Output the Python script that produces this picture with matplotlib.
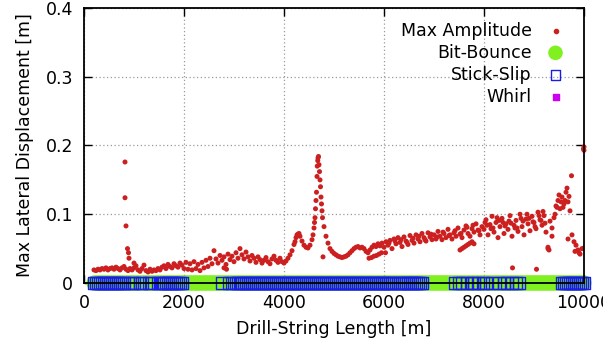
import numpy as np
import matplotlib
matplotlib.use("Agg")
import matplotlib.pyplot as plt
from matplotlib.patches import Rectangle

# drill-string length grid [m] (sampling step of the simulation output)
length_m = np.arange(200, 10001, 40)

# max lateral displacement, one block per 1000 m
amp_200_960 = [.019, .018, .020, .019, .021, .020, .022, .019, .021, .022,
               .020, .023, .021, .019, .022, .024, .020, .018, .021, .019]
amp_1000 = [.022, .025, .019, .017, .021, .026, .018, .016, .020, .017,
            .019, .018, .021, .019, .023, .025, .021, .027, .024, .022,
            .028, .025, .023, .029, .026]
amp_2000 = [.021, .030, .020, .028, .019, .031, .021, .027, .018, .030,
            .022, .033, .024, .036, .028, .047, .035, .029, .040, .033,
            .038, .027, .042, .034, .039]
amp_3000 = [.031, .044, .036, .050, .041, .035, .045, .038, .032, .040,
            .036, .030, .038, .034, .029, .033, .037, .031, .028, .035,
            .039, .033, .030, .036, .031]
amp_4000 = [.029, .032, .036, .041, .047, .056, .066, .071, .068, .061,
            .055, .052, .051, .055, .063, .080, .120, .182, .150, .105,
            .082, .068, .058, .050, .046]
amp_5000 = [.043, .041, .039, .038, .037, .038, .039, .041, .044, .047,
            .050, .052, .053, .051, .052, .050, .046, .044, .048, .052,
            .055, .053, .057, .054, .058]
amp_6000 = [.052, .060, .055, .062, .050, .064, .057, .066, .059, .053,
            .067, .061, .056, .069, .062, .058, .070, .064, .060, .072,
            .066, .061, .073, .067, .063]
amp_7000 = [.070, .064, .075, .068, .063, .072, .066, .078, .070, .064,
            .073, .068, .080, .071, .066, .077, .083, .072, .068, .079,
            .074, .086, .077, .070, .082]
amp_8000 = [.078, .092, .070, .085, .097, .074, .088, .066, .082, .094,
            .072, .086, .078, .098, .068, .084, .091, .075, .100, .082,
            .070, .093, .086, .076, .097]
amp_9000 = [.088, .079, .103, .092, .084, .098, .074, .052, .090, .080,
            .095, .112, .120, .108, .125, .115, .132, .118, .105, .070,
            .060, .055, .048, .042, .050, .051]

amplitude = np.array(amp_200_960 + amp_1000 + amp_2000 + amp_3000 + amp_4000
                     + amp_5000 + amp_6000 + amp_7000 + amp_8000 + amp_9000)

# extra points: spikes, resonance peak, lower branches and scatter
extra_x = [820, 820, 840, 870, 890, 900, 1000, 2800, 2850,
           4220, 4260, 4300, 4580, 4610, 4620, 4630, 4650, 4660, 4665, 4675,
           4690, 4700, 4710, 4730, 4740, 4750, 4770, 4780,
           5700, 5750, 5800, 5850, 5900, 5950, 6030,
           7520, 7560, 7600, 7640, 7680, 7720, 7760, 7800,
           8060, 8180, 8260, 8380, 8500, 8620, 8740, 8860, 8980, 9100, 9180,
           8570, 9050, 9280, 9300, 9460, 9500, 9540, 9620, 9660, 9700, 9750,
           9990, 10000, 10000,
           6100, 6220, 6340, 6460, 6580, 6700, 6820, 6940, 7060, 7180, 7300,
           7420, 7540, 7660, 7780, 7900, 8020, 8140, 8300, 8420, 8540, 8660,
           8780, 8900, 9020, 9140, 9220, 9360, 9420, 9580, 9680, 9820, 9900]
extra_y = [.176, .124, .083, .050, .044, .036, .029, .022, .020,
           .060, .070, .072, .070, .088, .095, .108, .132, .155, .170, .178,
           .184, .172, .162, .140, .125, .115, .095, .038,
           .036, .037, .039, .040, .042, .044, .044,
           .048, .050, .052, .054, .056, .058, .060, .057,
           .084, .080, .095, .088, .090, .080, .094, .100, .089, .098, .104,
           .022, .020, .050, .048, .110, .128, .118, .120, .138, .126, .156,
           .195, .198, .193,
           .058, .061, .063, .059, .065, .068, .063, .071, .067, .074, .069,
           .076, .072, .081, .084, .076, .088, .079, .091, .083, .087, .080,
           .090, .094, .082, .091, .087, .068, .100, .110, .064, .046, .044]

# vibration classification along the string (ranges in m)
stick_slip_ranges = [(180, 820), (1460, 1980), (3040, 6220), (6280, 6600),
                     (6640, 6780), (9560, 10000)]
stick_slip_single = [880, 960, 1000, 1120, 1160, 1300, 1340, 2760, 2900, 2960,
                     7420, 7500, 7560, 7660, 7760, 7800, 7880, 7980, 8040,
                     8160, 8300, 8400, 8460, 8560, 8640, 8700]
whirl_x = []

ss_mask = np.zeros(len(length_m), dtype=bool)
for a, b in stick_slip_ranges:
    ss_mask |= (length_m >= a) & (length_m <= b)
ss_x = np.concatenate([length_m[ss_mask], stick_slip_single])

red = '#cc1f1f'
green = '#80f020'
blue = '#1a1aee'
magenta = '#cc00ee'

fig = plt.figure(figsize=(6.03, 3.48), dpi=100)
ax = fig.add_axes([0.1393, 0.1868, 0.8292, 0.7902])

ax.scatter(length_m, np.zeros(len(length_m)), s=120, color=green,
           edgecolors='none', zorder=3, clip_on=False)
ax.scatter(ss_x, np.zeros(len(ss_x)), s=70, marker='s', facecolors='none',
           edgecolors=blue, linewidths=1.0, zorder=4, clip_on=False)
ax.scatter(whirl_x, np.zeros(len(whirl_x)), s=12, marker='s', color=magenta,
           zorder=5, clip_on=False)
ax.scatter(length_m, amplitude, s=13, color=red, edgecolors='none', zorder=6)
ax.scatter(extra_x, extra_y, s=13, color=red, edgecolors='none', zorder=6,
           clip_on=False)

ax.set_xlim(0, 10000)
ax.set_ylim(0, 0.4)
ax.set_xticks([0, 2000, 4000, 6000, 8000, 10000])
ax.set_yticks([0, 0.1, 0.2, 0.3, 0.4])
ax.set_yticklabels(['0', '0.1', '0.2', '0.3', '0.4'])
ax.tick_params(direction='in', top=True, right=True, length=6, width=1,
               labelsize=12.5, pad=8)
ax.set_axisbelow(False)
ax.grid(True, linestyle=(0, (1, 2)), color='#9a9a9a', linewidth=0.9)
for gl in ax.get_xgridlines() + ax.get_ygridlines():
    gl.set_zorder(1)
for sp in ax.spines.values():
    sp.set_linewidth(1.3)
    sp.set_zorder(7)

ax.set_xlabel('Drill-String Length [m]', fontsize=12.5, labelpad=6)
ax.set_ylabel('Max Lateral Displacement [m]', fontsize=12.5, labelpad=8)

# key (opaque, no border, text right aligned)
ax.add_patch(Rectangle((0.726, 0.644), 0.262, 0.334, transform=ax.transAxes,
                       facecolor='white', edgecolor='none', zorder=2.5))
key_labels = ['Max Amplitude', 'Bit-Bounce', 'Stick-Slip', 'Whirl']
key_y = [0.917, 0.837, 0.756, 0.677]
for lab, yy in zip(key_labels, key_y):
    ax.text(0.895, yy, lab, transform=ax.transAxes, ha='right', va='center',
            fontsize=12.5, zorder=8)
ax.scatter([0.943], [key_y[0]], s=9, color=red, transform=ax.transAxes,
           zorder=8, clip_on=False)
ax.scatter([0.943], [key_y[1]], s=110, color=green, edgecolors='none',
           transform=ax.transAxes, zorder=8, clip_on=False)
ax.scatter([0.943], [key_y[2]], s=45, marker='s', facecolors='none',
           edgecolors=blue, linewidths=1.0, transform=ax.transAxes, zorder=8,
           clip_on=False)
ax.scatter([0.943], [key_y[3]], s=14, marker='s', color=magenta,
           transform=ax.transAxes, zorder=8, clip_on=False)

fig.savefig('out.png', dpi=100)
